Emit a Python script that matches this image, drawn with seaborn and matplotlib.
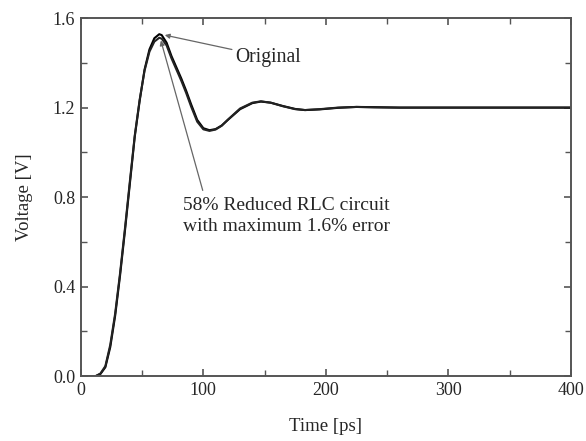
"""Step response: original RLC vs 58% reduced model."""
import matplotlib
matplotlib.use("Agg")
import matplotlib.pyplot as plt
import numpy as np
import pandas as pd
import seaborn as sns
from matplotlib.ticker import FormatStrFormatter, MultipleLocator

# values
time_orig = [0, 12, 16, 20, 24, 28, 32, 36, 40, 44, 48, 52, 56, 60, 64, 66, 70,
             74, 78, 82, 86, 90, 95, 100, 105, 110, 115, 120, 130, 140, 147, 155,
             165, 175, 183, 195, 210, 225, 240, 260, 300, 350, 400]
volt_orig = [0.0, 0.0, 0.01, 0.04, 0.13, 0.27, 0.45, 0.65, 0.86, 1.07, 1.23, 1.37,
             1.46, 1.51, 1.528, 1.524, 1.49, 1.43, 1.38, 1.33, 1.275, 1.215, 1.145,
             1.108, 1.099, 1.104, 1.12, 1.145, 1.193, 1.22, 1.227, 1.222, 1.207,
             1.194, 1.189, 1.192, 1.199, 1.203, 1.202, 1.200, 1.2, 1.2, 1.2]

time_red = [0, 12, 16, 20, 24, 28, 32, 36, 40, 44, 48, 52, 56, 60, 64, 66, 70,
            74, 78, 82, 86, 90, 95, 100, 105, 110, 115, 120, 130, 140, 147, 155,
            165, 175, 183, 195, 210, 225, 240, 260, 300, 350, 400]
volt_red = [0.0, 0.0, 0.012, 0.045, 0.14, 0.28, 0.46, 0.66, 0.87, 1.075, 1.235, 1.365,
            1.45, 1.495, 1.512, 1.508, 1.478, 1.42, 1.37, 1.32, 1.265, 1.205, 1.137,
            1.103, 1.096, 1.102, 1.119, 1.146, 1.196, 1.222, 1.228, 1.222, 1.206,
            1.193, 1.189, 1.193, 1.2, 1.203, 1.201, 1.200, 1.2, 1.2, 1.2]

df = pd.concat([
    pd.DataFrame({"t": time_orig, "v": volt_orig, "model": "Original"}),
    pd.DataFrame({"t": time_red, "v": volt_red, "model": "Reduced"}),
])

sns.set_style("ticks")
plt.rcParams["font.family"] = ["Liberation Serif", "DejaVu Serif"]

fig = plt.figure(figsize=(5.86, 4.41), dpi=100)
ax = fig.add_axes([0.138, 0.147, 0.836, 0.812])

sns.lineplot(data=df, x="t", y="v", hue="model", palette=["black", "#222222"],
             linewidth=1.5, legend=False, ax=ax, estimator=None, sort=True)

ax.set_xlim(0, 400)
ax.set_ylim(0, 1.6)
ax.xaxis.set_major_locator(MultipleLocator(100))
ax.xaxis.set_minor_locator(MultipleLocator(50))
ax.yaxis.set_major_locator(MultipleLocator(0.4))
ax.yaxis.set_minor_locator(MultipleLocator(0.2))
ax.yaxis.set_major_formatter(FormatStrFormatter("%.1f"))
ax.tick_params(which="both", direction="in", top=True, right=True,
               color="#555555", labelsize=13, pad=4)
ax.tick_params(which="major", length=5, width=1.2)
ax.tick_params(which="minor", length=4, width=1.0)
for s in ax.spines.values():
    s.set_color("#555555")
    s.set_linewidth(1.4)

ax.set_xlabel("Time [ps]", fontsize=13.5, labelpad=14)
ax.set_ylabel("Voltage [V]", fontsize=13.5, labelpad=14)

arrow = dict(arrowstyle="-|>", color="#666666", lw=0.9, mutation_scale=7,
             shrinkA=0, shrinkB=0)
ax.annotate("Original", xy=(68.5, 1.524), xytext=(126, 1.425),
            fontsize=14.2, va="center", ha="left", arrowprops=arrow)
ax.annotate("", xy=(65.3, 1.50), xytext=(99.5, 0.83), arrowprops=arrow)
ax.text(83.5, 0.80, "58% Reduced RLC circuit\nwith maximum 1.6% error",
        fontsize=14, va="top", ha="left", linespacing=1.3)

plt.savefig("out.png", dpi=100)
plt.close()
